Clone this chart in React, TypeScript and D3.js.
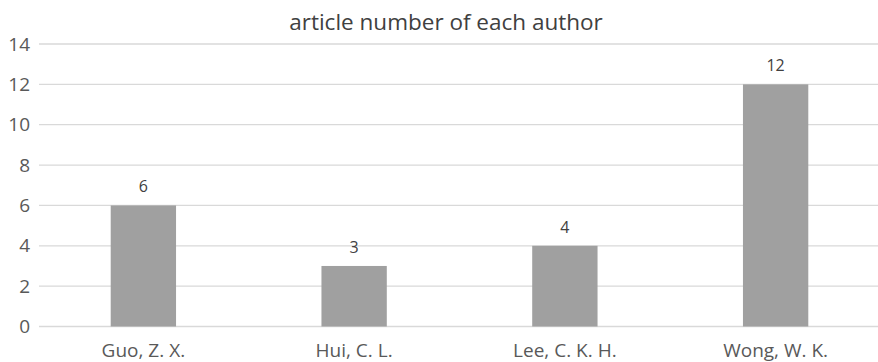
import React from "react";
import * as d3 from "d3";

const categories = ["Guo, Z. X.", "Hui, C. L.", "Lee, C. K. H.", "Wong, W. K."];
const values = [6, 3, 4, 12];
const yTicks = [0, 2, 4, 6, 8, 10, 12, 14];
const title = "article number of each author";

const W = 878;
const H = 362;
const FONT = "'Open Sans', 'Noto Sans', sans-serif";

export default function App() {
  const x = d3
    .scaleBand<string>()
    .domain(categories)
    .range([38, 881])
    .paddingInner(0.69)
    .paddingOuter(0.345);
  const y = d3.scaleLinear().domain([0, 14]).range([326.5, 44]);

  return (
    <svg
      width={W}
      height={H}
      style={{ position: "absolute", left: 0, top: 0, background: "#fff" }}
      fontFamily={FONT}
    >
      <text x={446} y={30} textAnchor="middle" fontSize={22.5} fill="#404040">
        {title}
      </text>
      {yTicks.map((t) => (
        <g key={t}>
          <line x1={39} x2={W} y1={y(t)} y2={y(t)} stroke="#d9d9d9" strokeWidth={1.3} />
          <text x={30} y={y(t)} dy="0.35em" textAnchor="end" fontSize={19} fill="#595959">
            {t}
          </text>
        </g>
      ))}
      {categories.map((c, i) => (
        <g key={c}>
          <rect
            x={x(c)!}
            y={y(values[i])}
            width={x.bandwidth()}
            height={y(0) - y(values[i])}
            fill="#a0a0a0"
          />
          <text
            x={x(c)! + x.bandwidth() / 2}
            y={y(values[i]) - 13}
            textAnchor="middle"
            fontSize={16}
            fill="#404040"
          >
            {values[i]}
          </text>
          <text
            x={x(c)! + x.bandwidth() / 2}
            y={357}
            textAnchor="middle"
            fontSize={19}
            fill="#595959"
          >
            {c}
          </text>
        </g>
      ))}
    </svg>
  );
}
